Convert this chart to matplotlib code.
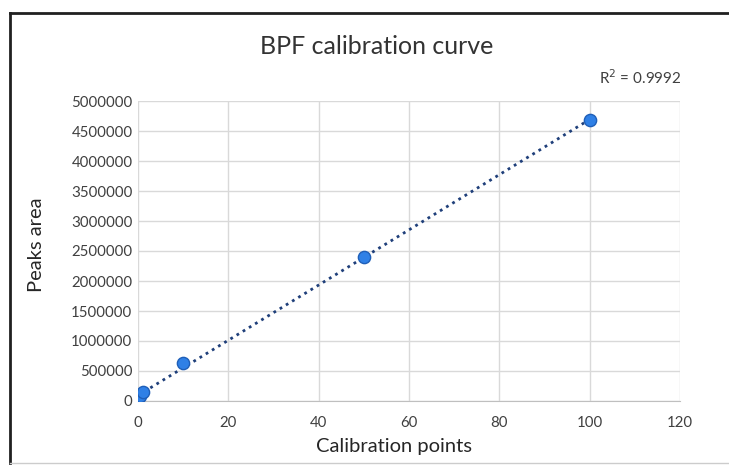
import matplotlib
matplotlib.use("Agg")
import matplotlib.pyplot as plt
import numpy as np
from matplotlib.lines import Line2D

plt.rcParams['font.family'] = ['Lato', 'DejaVu Sans']

conc = [0.1, 0.5, 1, 10, 50, 100]
area = [40000, 80000, 150000, 640000, 2400000, 4680000]
xticks = [0, 20, 40, 60, 80, 100, 120]
yticks = [0, 500000, 1000000, 1500000, 2000000, 2500000, 3000000, 3500000, 4000000, 4500000, 5000000]
r2_label = "R$^2$ = 0.9992"

fig = plt.figure(figsize=(7.29, 4.65), dpi=100)
ax = fig.add_axes([138/729, 1-401/465, (680-138)/729, 300/465])

# trendline
coef = np.polyfit(conc, area, 1)
xl = np.array([0, 100])
ax.plot(xl, np.polyval(coef, xl), linestyle=(0, (1, 1.6)), color='#1f3f7a', lw=2.0, zorder=3)
ax.scatter(conc, area, s=78, color='#2f80e6', edgecolor='#1f5fb8', linewidth=1, zorder=4)

ax.set_xlim(0, 120)
ax.set_ylim(0, 5000000)
ax.set_xticks(xticks)
ax.set_yticks(yticks)
ax.set_xticklabels([str(v) for v in xticks])
ax.set_yticklabels([str(v) for v in yticks])
ax.grid(True, color='#d9d9d9', lw=1)
ax.set_axisbelow(True)
for s in ['top', 'right', 'left']:
    ax.spines[s].set_visible(False)
ax.spines['bottom'].set_color('#bfbfbf')
ax.tick_params(length=0, labelsize=10.8, colors='#404040')
ax.tick_params(axis='x', pad=11)
ax.tick_params(axis='y', pad=4)

fig.text(377/729, 1-47/465, "BPF calibration curve", ha='center', va='center', fontsize=18, color='#333333')
fig.text(640/729, 1-78/465, r2_label, ha='center', va='center', fontsize=11, color='#404040')
fig.text(37/729, 1-245/465, "Peaks area", ha='center', va='center', rotation=90, fontsize=14.5, color='#262626')
fig.text(394/729, 1-446/465, "Calibration points", ha='center', va='center', fontsize=14.5, color='#262626')

# outer frame
fig.add_artist(Line2D([10/729, 10/729], [1-13/465, 1-463/465], color='#202020', lw=2, transform=fig.transFigure))
fig.add_artist(Line2D([10/729, 1], [1-13/465, 1-13/465], color='#202020', lw=2, transform=fig.transFigure))
fig.add_artist(Line2D([10/729, 1], [1-463/465, 1-463/465], color='#cccccc', lw=1, transform=fig.transFigure))

fig.savefig("out.png", dpi=100)
